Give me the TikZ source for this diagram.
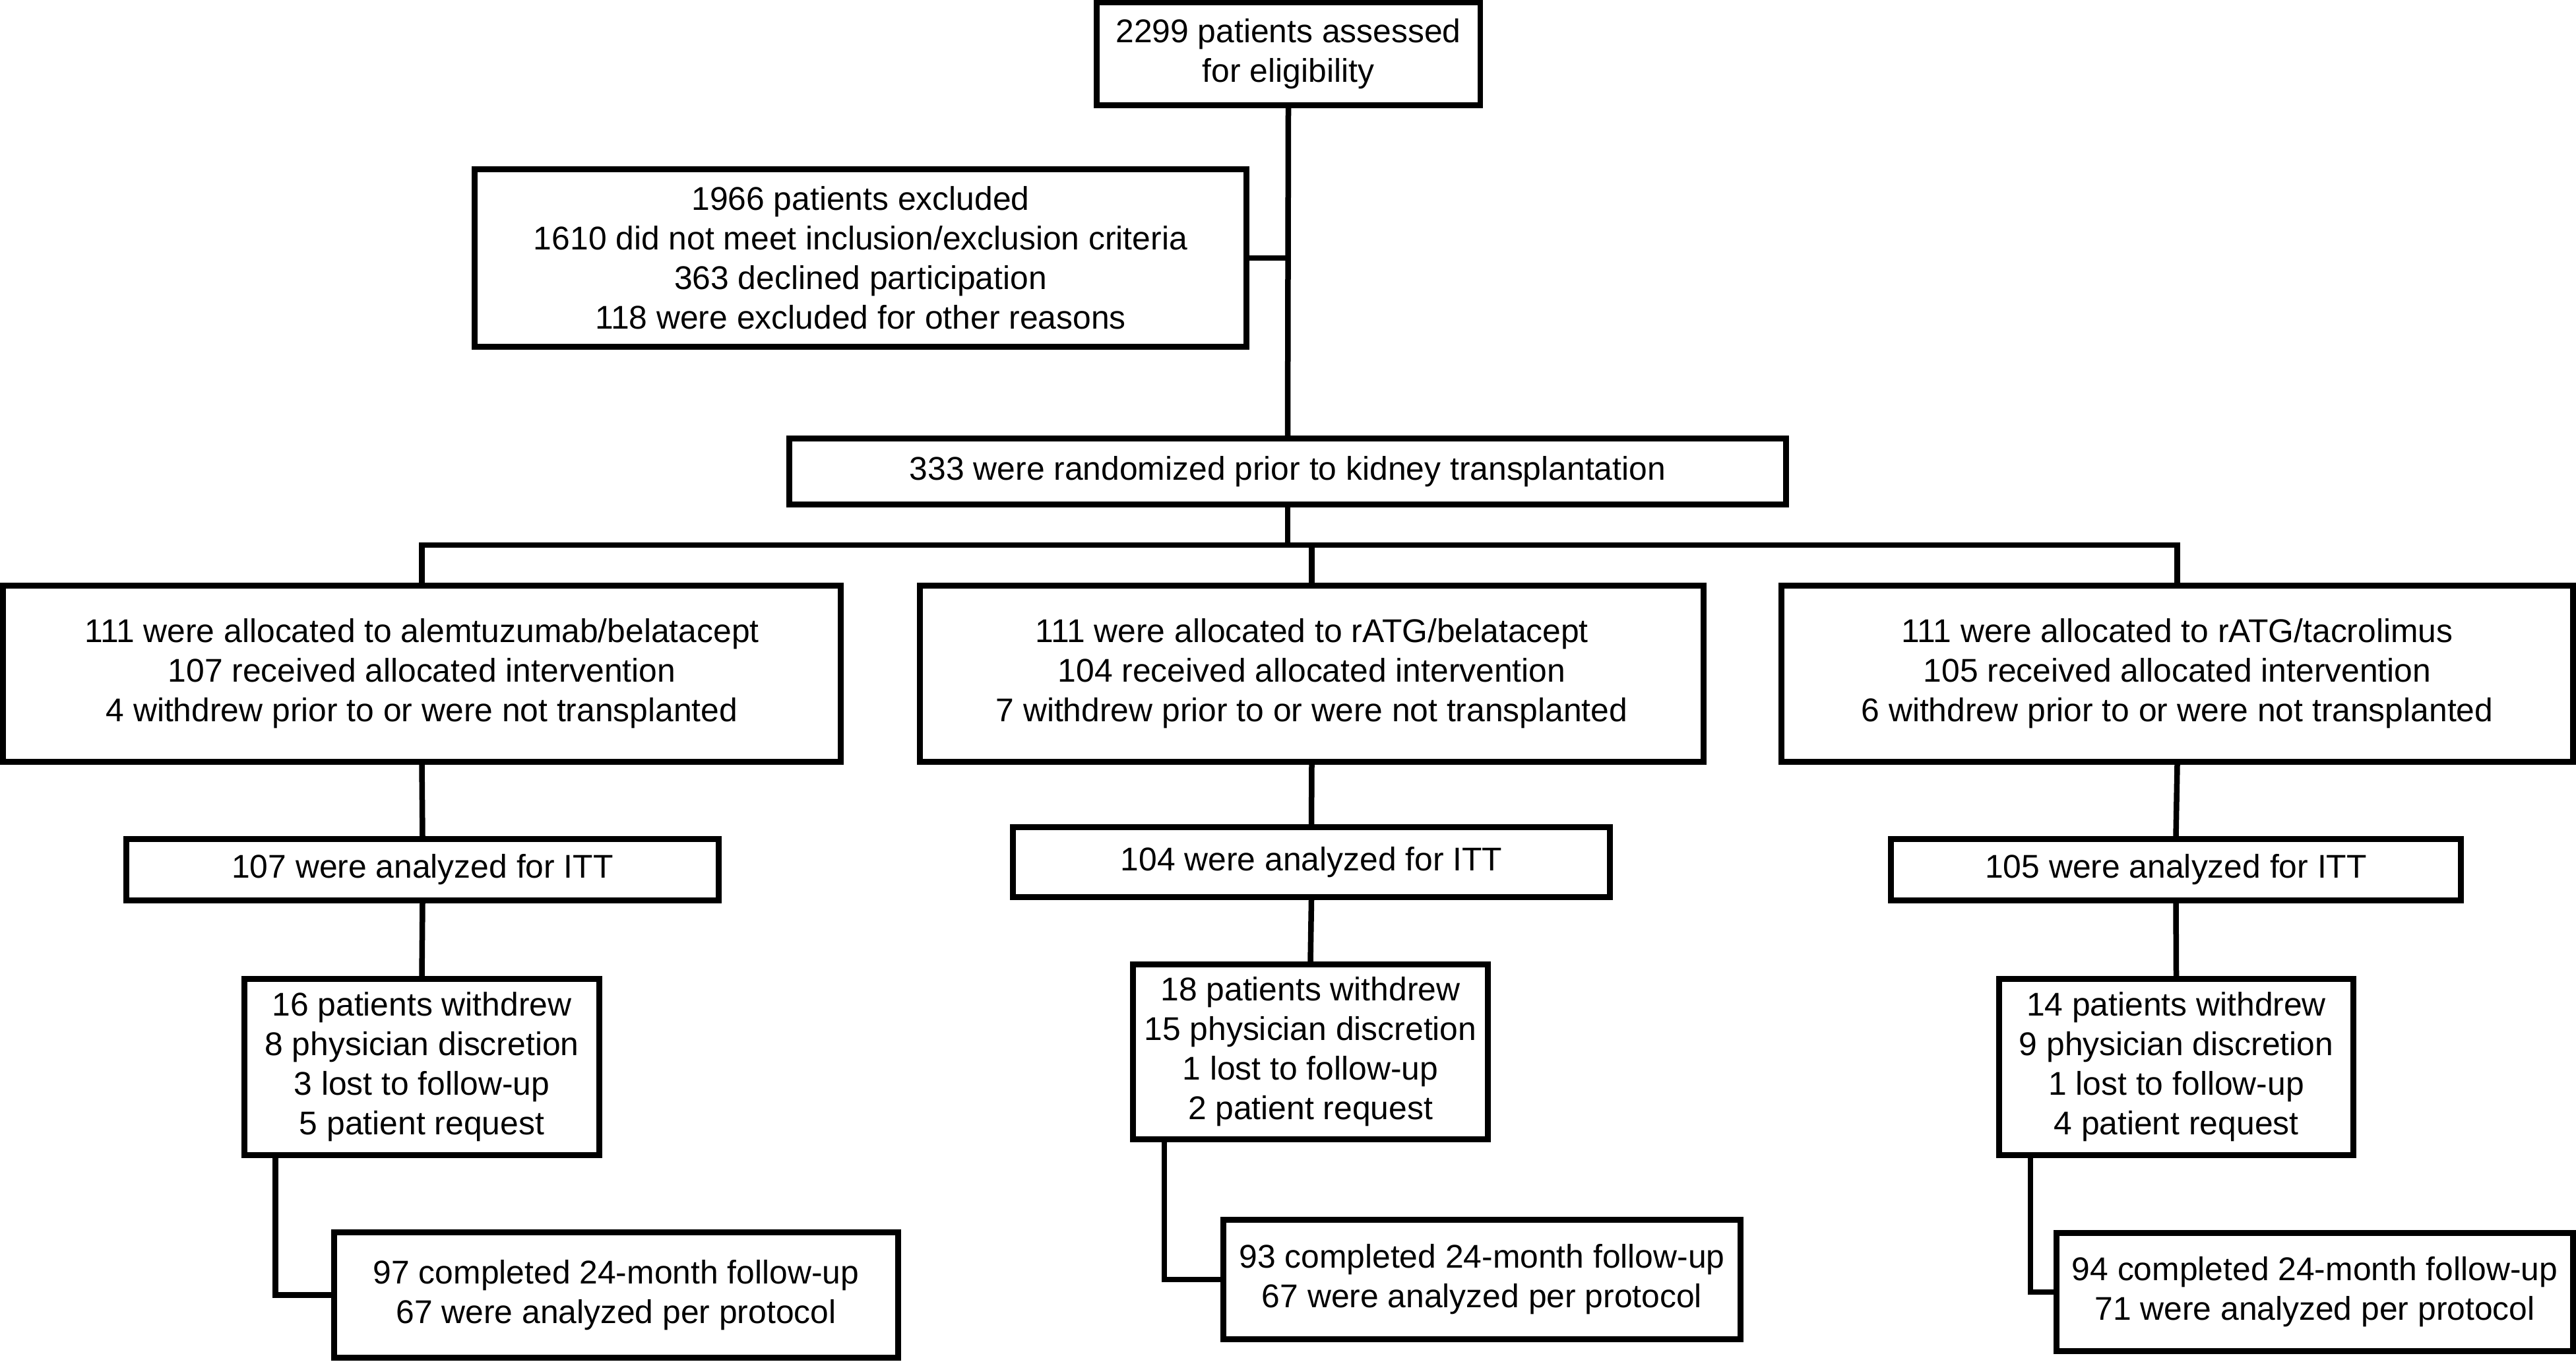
\documentclass[tikz,border=0pt]{standalone}
\usepackage{fontspec}
\setmainfont{Liberation Sans}
\newcommand{\boxfont}{\fontsize{14.17pt}{17.07pt}\selectfont}
\begin{document}
\begin{tikzpicture}[
  box/.style={draw=black, line width=0.085cm, inner sep=0pt, align=center, font=\boxfont},
  conn/.style={draw=black, line width=0.085cm}
]
\useasboundingbox (0,0) rectangle (39.05,-20.64);
% top
\node[box, minimum width=5.815cm, minimum height=1.555cm] (top) at (19.53,-0.82) {2299 patients assessed\\for eligibility};
\node[box, minimum width=11.70cm, minimum height=2.69cm] (excl) at (13.045,-3.91) {1966 patients excluded\\1610 did not meet inclusion/exclusion criteria\\363 declined participation\\118 were excluded for other reasons};
\node[box, minimum width=15.11cm, minimum height=1.00cm] (rand) at (19.52,-7.145) {333 were randomized prior to kidney transplantation};
% allocation
\node[box, minimum width=12.70cm, minimum height=2.67cm] (al) at (6.395,-10.21) {111 were allocated to alemtuzumab/belatacept\\107 received allocated intervention\\4 withdrew prior to or were not transplanted};
\node[box, minimum width=11.88cm, minimum height=2.67cm] (am) at (19.885,-10.21) {111 were allocated to rATG/belatacept\\104 received allocated intervention\\7 withdrew prior to or were not transplanted};
\node[box, minimum width=12.00cm, minimum height=2.67cm] (ar) at (33.005,-10.21) {111 were allocated to rATG/tacrolimus\\105 received allocated intervention\\6 withdrew prior to or were not transplanted};
% ITT
\node[box, minimum width=8.98cm, minimum height=0.93cm] (il) at (6.405,-13.18) {107 were analyzed for ITT};
\node[box, minimum width=9.05cm, minimum height=1.06cm] (im) at (19.88,-13.065) {104 were analyzed for ITT};
\node[box, minimum width=8.64cm, minimum height=0.93cm] (ir) at (32.985,-13.18) {105 were analyzed for ITT};
% withdrew
\node[box, minimum width=5.38cm, minimum height=2.67cm] (wl) at (6.395,-16.17) {16 patients withdrew\\8 physician discretion\\3 lost to follow-up\\5 patient request};
\node[box, minimum width=5.38cm, minimum height=2.65cm] (wm) at (19.865,-15.94) {18 patients withdrew\\15 physician discretion\\1 lost to follow-up\\2 patient request};
\node[box, minimum width=5.37cm, minimum height=2.67cm] (wr) at (32.99,-16.17) {14 patients withdrew\\9 physician discretion\\1 lost to follow-up\\4 patient request};
% completed
\node[box, minimum width=8.55cm, minimum height=1.90cm] (cl) at (9.34,-19.625) {97 completed 24-month follow-up\\67 were analyzed per protocol};
\node[box, minimum width=7.84cm, minimum height=1.81cm] (cm) at (22.465,-19.39) {93 completed 24-month follow-up\\67 were analyzed per protocol};
\node[box, minimum width=7.83cm, minimum height=1.79cm] (cr) at (35.09,-19.58) {94 completed 24-month follow-up\\71 were analyzed per protocol};
% connectors
\coordinate (br) at (19.52,-8.26);
\draw[conn] (top.south) -- (rand.north);
\draw[conn] (excl.east) -- (excl.east -| top.south);
\draw[conn] (rand.south) -- (br);
\draw[conn] (al.north) |- (br) -| (ar.north);
\draw[conn] (am.north |- br) -- (am.north);
\draw[conn] (al.south) -- (il.north);
\draw[conn] (am.south) -- (im.north);
\draw[conn] (ar.south) -- (ir.north);
\draw[conn] (il.south) -- (wl.north);
\draw[conn] (im.south) -- (wm.north);
\draw[conn] (ir.south) -- (wr.north);
\draw[conn] ([xshift=0.51cm]wl.south west) |- (cl.west);
\draw[conn] ([xshift=0.515cm]wm.south west) |- (cm.west);
\draw[conn] ([xshift=0.515cm]wr.south west) |- (cr.west);
\end{tikzpicture}
\end{document}
